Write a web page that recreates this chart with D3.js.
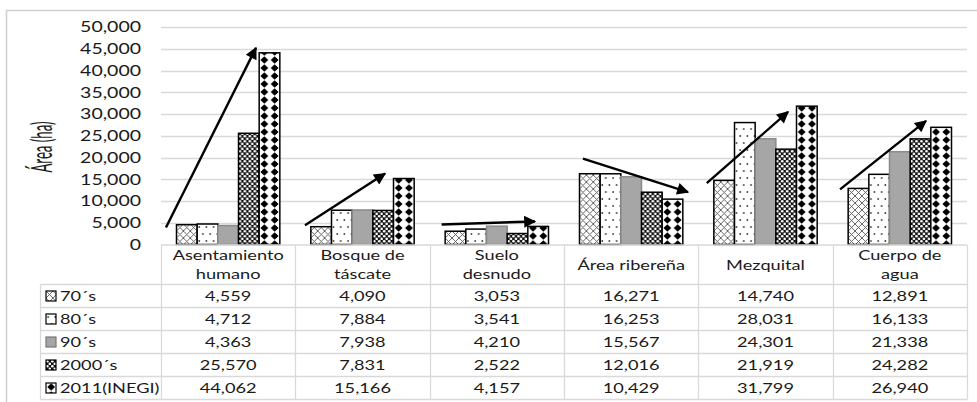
<!DOCTYPE html>
<html><head><meta charset="utf-8">
<script src="https://cdn.jsdelivr.net/npm/d3@7"></script>
<style>html,body{margin:0;padding:0;background:#fff;} svg{display:block;}</style>
</head><body>
<svg id="chart" width="977" height="402"></svg>
<script>
// ---- data ----
const categories = ["Asentamiento humano", "Bosque de táscate", "Suelo desnudo", "Área ribereña", "Mezquital", "Cuerpo de agua"];
const categoryLines = [["Asentamiento", "humano"], ["Bosque de", "táscate"], ["Suelo", "desnudo"], ["Área ribereña"], ["Mezquital"], ["Cuerpo de", "agua"]];
const seriesNames = ["70´s", "80´s", "90´s", "2000´s", "2011(INEGI)"];
const s70 = [4559, 4090, 3053, 16271, 14740, 12891];
const s80 = [4712, 7884, 3541, 16253, 28031, 16133];
const s90 = [4363, 7938, 4210, 15567, 24301, 21338];
const s2000 = [25570, 7831, 2522, 12016, 21919, 24282];
const s2011 = [44062, 15166, 4157, 10429, 31799, 26940];
const yTicks = [0, 5000, 10000, 15000, 20000, 25000, 30000, 35000, 40000, 45000, 50000];
// trend arrows: [category, start fraction of column, start value, end fraction, end value]
const arrowCats = categories;
const arrowFrom = [[0.037, 3900], [0.072, 4400], [0.089, 4600], [0.141, 19750], [0.063, 14130], [0.055, 12670]];
const arrowTo = [[0.707, 45200], [0.668, 16300], [0.784, 5300], [0.923, 12050], [0.668, 30480], [0.695, 28410]];

const seriesValues = [s70, s80, s90, s2000, s2011];

// ---- layout ----
const SX = 1.3;
const svg = d3.select("#chart");
const font = "Lato, 'Open Sans', sans-serif";
const gridCol = "#d9d9d9";
const txtCol = "#1a1a1a";

const x = d3.scaleBand().domain(categories).range([161, 967]).paddingInner(0).paddingOuter(0);
const xi = d3.scaleBand().domain(seriesNames).range([0, x.bandwidth()]).paddingInner(0).paddingOuter(0.75);
const y = d3.scaleLinear().domain([0, 50000]).range([244.5, 27]);
const bw = xi.bandwidth();

svg.append("rect").attr("width", 977).attr("height", 402).attr("fill", "#fff");
svg.append("rect").attr("x", 6.5).attr("y", 10.5).attr("width", 990).attr("height", 420)
  .attr("fill", "none").attr("stroke", "#d0d0d0").attr("stroke-width", 1.5);

// patterns
const defs = svg.append("defs");
const pw = bw / 2;
let p = defs.append("pattern").attr("id", "p0").attr("patternUnits", "userSpaceOnUse").attr("width", pw / 1.5).attr("height", 7);
p.append("rect").attr("width", pw).attr("height", 7).attr("fill", "#fff");
p.append("path").attr("d", `M0,0L${pw/1.5},7M${pw/1.5},0L0,7`).attr("stroke", "#555").attr("stroke-width", 0.9);
p = defs.append("pattern").attr("id", "p1").attr("patternUnits", "userSpaceOnUse").attr("width", pw * 0.7).attr("height", 14);
p.append("rect").attr("width", pw).attr("height", 14).attr("fill", "#fff");
p.append("circle").attr("cx", pw * 0.2).attr("cy", 3).attr("r", 0.9).attr("fill", "#333");
p.append("circle").attr("cx", pw * 0.55).attr("cy", 10).attr("r", 0.9).attr("fill", "#333");
p = defs.append("pattern").attr("id", "p2").attr("patternUnits", "userSpaceOnUse").attr("width", 8).attr("height", 8);
p.append("rect").attr("width", 8).attr("height", 8).attr("fill", "#a6a6a6");
p = defs.append("pattern").attr("id", "p3").attr("patternUnits", "userSpaceOnUse").attr("width", 5).attr("height", 5);
p.append("rect").attr("width", 5).attr("height", 5).attr("fill", "#111");
p.append("ellipse").attr("cx", 1.3).attr("cy", 1.3).attr("rx", 1.5).attr("ry", 1.2).attr("fill", "#fff");
p.append("ellipse").attr("cx", 3.8).attr("cy", 3.8).attr("rx", 1.3).attr("ry", 1.4).attr("fill", "#fff");
p = defs.append("pattern").attr("id", "p4").attr("patternUnits", "userSpaceOnUse").attr("width", pw).attr("height", 8);
p.append("rect").attr("width", pw).attr("height", 8).attr("fill", "#fff");
p.append("path").attr("d", `M${pw/2},0.2L${pw/2+3.9},4L${pw/2},7.8L${pw/2-3.9},4Z`).attr("fill", "#000");
const strokes = ["#000", "#000", "#8a8a8a", "#000", "#000"];

// gridlines
svg.append("g").selectAll("line").data(yTicks.slice(1)).join("line")
  .attr("x1", 161).attr("x2", 967).attr("y1", d => Math.round(y(d)) + 0.5).attr("y2", d => Math.round(y(d)) + 0.5)
  .attr("stroke", gridCol).attr("stroke-width", 1.3);

// y axis labels
const yAxis = d3.axisLeft(y).tickValues(yTicks).tickFormat(d3.format(",")).tickSize(0).tickPadding(0);
const ga = svg.append("g").attr("transform", "translate(141,0)").call(yAxis);
ga.select(".domain").remove();
ga.selectAll(".tick").attr("transform", null);
ga.selectAll("text").attr("font-family", font).attr("font-size", 15).attr("fill", txtCol)
  .attr("x", null).attr("y", null).attr("dy", "0.35em")
  .attr("transform", d => `translate(0,${y(d)}) scale(${SX},1)`);

// y title
svg.append("text").attr("transform", `translate(52,147) scale(1.4,0.66) rotate(-90)`)
  .attr("text-anchor", "middle").attr("font-family", font).attr("font-size", 20).attr("fill", txtCol)
  .text("Área (ha)");

// bars
const gBars = svg.append("g");
seriesNames.forEach((s, si) => {
  categories.forEach((c, ci) => {
    const v = seriesValues[si][ci];
    const bx = x(c) + xi(s);
    gBars.append("g").attr("transform", `translate(${bx},0)`)
      .append("rect").attr("x", 0).attr("y", y(v)).attr("width", bw).attr("height", y(0) - y(v))
      .attr("fill", `url(#p${si})`).attr("stroke", strokes[si]).attr("stroke-width", 1.5);
  });
});

// arrows
defs.append("marker").attr("id", "ah").attr("viewBox", "0 0 10 10").attr("refX", 9).attr("refY", 5)
  .attr("markerWidth", 6).attr("markerHeight", 5).attr("orient", "auto").attr("markerUnits", "strokeWidth")
  .append("path").attr("d", "M0,0L10,5L0,10Z").attr("fill", "#000");
svg.append("g").selectAll("line").data(arrowCats).join("line")
  .attr("x1", (c, i) => x(c) + arrowFrom[i][0] * x.bandwidth()).attr("y1", (c, i) => y(arrowFrom[i][1]))
  .attr("x2", (c, i) => x(c) + arrowTo[i][0] * x.bandwidth()).attr("y2", (c, i) => y(arrowTo[i][1]))
  .attr("stroke", "#000").attr("stroke-width", 2.4).attr("marker-end", "url(#ah)");

// table
const rowTop = 284.5, rowH = 23, tableRight = 967, legendLeft = 40.5;
const tg = svg.append("g");
tg.append("line").attr("x1", 161).attr("x2", tableRight).attr("y1", 245).attr("y2", 245).attr("stroke", gridCol).attr("stroke-width", 1.3);
for (let r = 0; r <= seriesNames.length; r++) {
  tg.append("line").attr("x1", legendLeft).attr("x2", tableRight).attr("y1", rowTop + r * rowH).attr("y2", rowTop + r * rowH)
    .attr("stroke", gridCol).attr("stroke-width", 1.3);
}
const colEdges = categories.map(c => x(c)).concat([x.range()[1]]);
colEdges.forEach(cx => {
  tg.append("line").attr("x1", Math.round(cx) + 0.5).attr("x2", Math.round(cx) + 0.5).attr("y1", 245).attr("y2", rowTop + seriesNames.length * rowH)
    .attr("stroke", gridCol).attr("stroke-width", 1.3);
});
tg.append("line").attr("x1", legendLeft).attr("x2", legendLeft).attr("y1", rowTop).attr("y2", rowTop + seriesNames.length * rowH)
  .attr("stroke", gridCol).attr("stroke-width", 1.3);

function stext(g, px, py, t, size, anchor) {
  return g.append("text").attr("transform", `translate(${px},${py}) scale(${SX},1)`)
    .attr("text-anchor", anchor || "middle").attr("dy", "0.35em")
    .attr("font-family", font).attr("font-size", size).attr("fill", txtCol).text(t);
}
// header
categories.forEach((c, ci) => {
  const lines = categoryLines[ci];
  const cx = x(c) + x.bandwidth() / 2;
  if (lines.length === 1) stext(tg, cx, 265, lines[0], 14);
  else lines.forEach((l, li) => stext(tg, cx, 255.5 + li * 19, l, 14));
});
// rows
seriesNames.forEach((s, si) => {
  const cy = rowTop + si * rowH + rowH / 2;
  tg.append("g").attr("transform", `translate(46,${cy - 5})`)
    .append("rect").attr("width", 10).attr("height", 10).attr("fill", `url(#p${si})`).attr("stroke", strokes[si] === "#000" ? "#000" : "#777").attr("stroke-width", 1.2);
  stext(tg, 60, cy, s, 14, "start");
  categories.forEach((c, ci) => {
    stext(tg, x(c) + x.bandwidth() / 2, cy, d3.format(",")(seriesValues[si][ci]), 14);
  });
});
</script>
</body></html>
